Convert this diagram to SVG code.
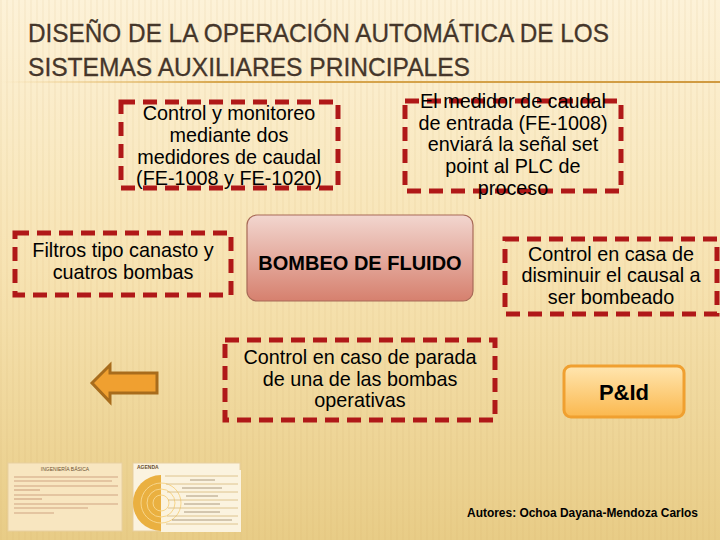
<svg xmlns="http://www.w3.org/2000/svg" width="720" height="540" viewBox="0 0 720 540">
<style>
.t{font-family:"Liberation Sans",Arial,sans-serif;font-size:19.8px;fill:#000;text-anchor:middle}
.dash{fill:none;stroke:#b01818;stroke-width:5;stroke-dasharray:14,8}
.title{font-family:"Liberation Sans",Arial,sans-serif;font-size:26px;fill:#45362a;stroke:#45362a;stroke-width:0.3}
</style>
<defs>
<linearGradient id="bg" x1="0" y1="0" x2="0" y2="1">
<stop offset="0" stop-color="#fdf2d8"/>
<stop offset="0.5" stop-color="#f7e3b2"/>
<stop offset="1" stop-color="#e8cc86"/>
</linearGradient>
<pattern id="stripes" width="6" height="540" patternUnits="userSpaceOnUse">
<rect x="0" y="0" width="2" height="540" fill="#c8a060" opacity="0.08"/>
</pattern>
<linearGradient id="rule" x1="0" y1="0" x2="1" y2="0">
<stop offset="0" stop-color="#e8c070" stop-opacity="0"/>
<stop offset="0.3" stop-color="#d8a850"/>
<stop offset="1" stop-color="#d09a40"/>
</linearGradient>
<linearGradient id="pink" x1="0" y1="0" x2="0" y2="1">
<stop offset="0" stop-color="#f2d6cf"/>
<stop offset="1" stop-color="#d6806e"/>
</linearGradient>
<linearGradient id="orange" x1="0" y1="0" x2="0" y2="1">
<stop offset="0" stop-color="#ffe6b0"/>
<stop offset="1" stop-color="#fbb84e"/>
</linearGradient>
</defs>
<rect width="720" height="540" fill="url(#bg)"/>
<rect width="720" height="540" fill="url(#stripes)"/>
<g id="title">
<text class="title" x="28" y="42" textLength="581" lengthAdjust="spacingAndGlyphs">DISEÑO DE LA OPERACIÓN AUTOMÁTICA DE LOS</text>
<text class="title" x="28" y="76" textLength="442" lengthAdjust="spacingAndGlyphs">SISTEMAS AUXILIARES PRINCIPALES</text>
<rect x="0" y="81" width="720" height="2" fill="url(#rule)"/>
</g>
<g id="connectors">
<path d="M92,383 L110,365 L110,373 L157,373 L157,393 L110,393 L110,402 Z" fill="#f0a030" stroke="#a86c1c" stroke-width="3" stroke-linejoin="miter"/>
</g>
<g id="n1">
<rect class="dash" x="121" y="102" width="217" height="86"/>
<text class="t" x="229" y="120">Control y monitoreo</text>
<text class="t" x="229" y="142">mediante dos</text>
<text class="t" x="229" y="164">medidores de caudal</text>
<text class="t" x="229" y="185">(FE-1008 y FE-1020)</text>
</g>
<g id="n2">
<rect class="dash" x="405" y="101" width="216" height="90"/>
<text class="t" x="513" y="108">El medidor de caudal</text>
<text class="t" x="513" y="130">de entrada (FE-1008)</text>
<text class="t" x="513" y="151">enviará la señal set</text>
<text class="t" x="513" y="173">point al PLC de</text>
<text class="t" x="513" y="195">proceso</text>
</g>
<g id="n3">
<rect class="dash" x="15" y="233" width="216" height="62"/>
<text class="t" x="123" y="257">Filtros tipo canasto y</text>
<text class="t" x="123" y="279">cuatros bombas</text>
</g>
<g id="n4">
<rect x="247" y="215" width="226" height="86" rx="10" fill="url(#pink)" stroke="#a86a58" stroke-width="1.2"/>
<text class="t" x="360" y="270" style="font-weight:bold;font-size:20px">BOMBEO DE FLUIDO</text>
</g>
<g id="n5">
<rect class="dash" x="505" y="239" width="212" height="75"/>
<text class="t" x="611" y="261">Control en casa de</text>
<text class="t" x="611" y="282">disminuir el causal a</text>
<text class="t" x="611" y="304">ser bombeado</text>
</g>
<g id="n6">
<rect class="dash" x="225" y="340" width="270" height="80"/>
<text class="t" x="360" y="364">Control en caso de parada</text>
<text class="t" x="360" y="386">de una de las bombas</text>
<text class="t" x="360" y="407">operativas</text>
</g>
<g id="n7">
<rect x="564" y="366" width="120" height="51" rx="7" fill="url(#orange)" stroke="#f0a030" stroke-width="3"/>
<text class="t" x="624" y="400" style="font-weight:bold;font-size:22px">P&amp;Id</text>
</g>
<g id="thumb1">
<rect x="8" y="463" width="114" height="68" fill="#f8e6c0" stroke="#e8d0a0" stroke-width="1"/>
<text x="65" y="471" style="font-family:'Liberation Sans',Arial,sans-serif;font-size:5px;fill:#6a5030;text-anchor:middle">INGENIERÍA BÁSICA</text>
<g stroke="#c08a6a" stroke-width="1.2" opacity="0.7">
<line x1="14" y1="477" x2="118" y2="477"/>
<line x1="14" y1="481" x2="112" y2="481"/>
<line x1="14" y1="486" x2="118" y2="486"/>
<line x1="14" y1="490" x2="40" y2="490"/>
<line x1="14" y1="495" x2="118" y2="495"/>
<line x1="14" y1="499" x2="42" y2="499"/>
<line x1="14" y1="504" x2="118" y2="504"/>
<line x1="14" y1="508" x2="88" y2="508"/>
<line x1="14" y1="513" x2="54" y2="513"/>
</g>
</g>
<g id="thumb2">
<rect x="133" y="463" width="107" height="68" fill="#fbf3df" stroke="#e8d0a0" stroke-width="1"/>
<text x="137" y="469" style="font-family:'Liberation Sans',Arial,sans-serif;font-size:5px;font-weight:bold;fill:#6a5030">AGENDA</text>
<circle cx="161" cy="503" r="28" fill="#eab040"/>
<rect x="161" y="470" width="80" height="62" fill="#fbf3df"/>
<g fill="none" stroke="#f7d58a" stroke-width="1">
<circle cx="161" cy="503" r="8"/>
<circle cx="161" cy="503" r="14"/>
<circle cx="161" cy="503" r="20"/>
</g>
<g stroke="#d8b878" stroke-width="0.8">
<line x1="165" y1="476" x2="238" y2="476"/>
<line x1="166" y1="484" x2="238" y2="484"/>
<line x1="167" y1="492" x2="238" y2="492"/>
<line x1="168" y1="500" x2="238" y2="500"/>
<line x1="168" y1="508" x2="238" y2="508"/>
<line x1="167" y1="516" x2="238" y2="516"/>
<line x1="166" y1="524" x2="238" y2="524"/>
</g>
<g stroke="#7a6040" stroke-width="1" opacity="0.6">
<line x1="190" y1="480" x2="215" y2="480"/>
<line x1="182" y1="488" x2="222" y2="488"/>
<line x1="186" y1="496" x2="218" y2="496"/>
<line x1="184" y1="504" x2="220" y2="504"/>
<line x1="184" y1="512" x2="220" y2="512"/>
<line x1="172" y1="520" x2="232" y2="520"/>
</g>
</g>
<text x="467" y="517" textLength="231" lengthAdjust="spacingAndGlyphs" style="font-family:'Liberation Sans',Arial,sans-serif;font-size:12px;font-weight:bold;fill:#000">Autores: Ochoa Dayana-Mendoza Carlos</text>
</svg>
